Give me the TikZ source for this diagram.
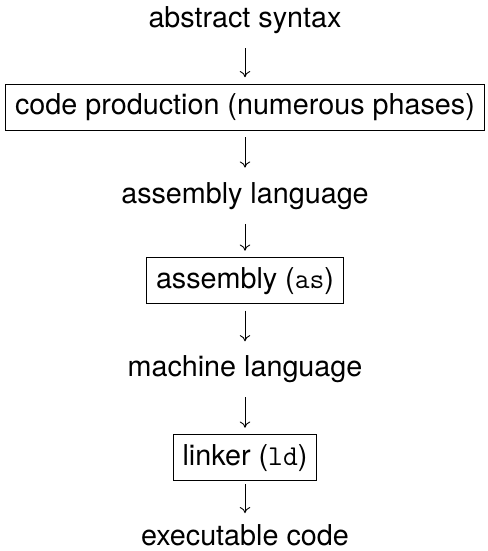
\documentclass[tikz,border=0pt]{standalone}
\usepackage{fontspec}
\setmainfont{TeX Gyre Heros}
\usepackage{tikz}
\usetikzlibrary{arrows.meta}

\tikzset{
    stage/.style={anchor=base, inner sep=0pt, outer ysep=6.2pt,
        font=\fontsize{12.1}{14.5}\selectfont, text height=8.7pt, text depth=2.55pt},
    tool/.style={stage, draw, line width=0.45pt, inner sep=4pt, outer sep=3pt},
    flow/.style={-{Computer Modern Rightarrow[length=2.6pt,width=4.4pt]}, line width=0.38pt}
}

\begin{document}
\begin{tikzpicture}[x=0.421pt, y=-0.421pt]
        \def\xmid{245}

        \useasboundingbox (0,0) rectangle (488,551);

        \node[stage] (ast) at (\xmid,27.7) {abstract syntax};
        \node[tool]  (gen) at (\xmid,114.5) {code production (numerous phases)};
        \node[stage] (asm) at (\xmid,203) {assembly language};
        \node[tool]  (as)  at (\xmid,288) {assembly (\texttt{as})};
        \node[stage] (mach) at (\xmid,376.7) {machine language};
        \node[tool]  (ld)  at (\xmid,465) {linker (\texttt{ld})};
        \node[stage] (exe) at (\xmid,545) {executable code};

        \draw[flow] (ast) -- (gen);
        \draw[flow] (gen) -- (asm);
        \draw[flow] (asm) -- (as);
        \draw[flow] (as) -- (mach);
        \draw[flow] (mach) -- (ld);
        \draw[flow, shorten <=-1.5pt, shorten >=-1.5pt] (ld) -- (exe);
    \end{tikzpicture}
\end{document}
